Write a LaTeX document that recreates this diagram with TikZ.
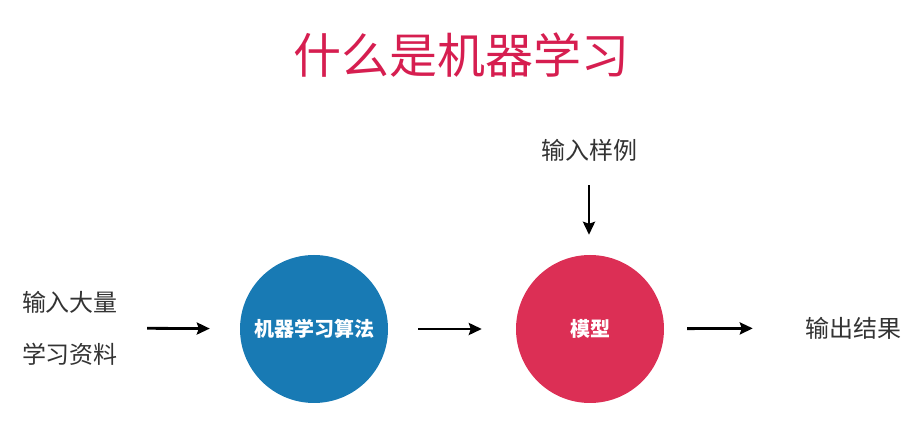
\documentclass[tikz,border=0pt]{standalone}
\usepackage{fontspec}
\setmainfont{Noto Sans CJK SC}
\usetikzlibrary{arrows.meta}

\definecolor{titlered}{RGB}{214,30,80}
\definecolor{algoblue}{RGB}{24,122,180}
\definecolor{modelred}{RGB}{220,47,85}
\definecolor{textgray}{RGB}{51,51,51}

\tikzset{
    label/.style={text=textgray, inner sep=0pt, font=\fontsize{24}{52}\selectfont},
    ball/.style={circle, minimum size=148pt, inner sep=0pt, text=white, font=\fontsize{20}{24}\selectfont\bfseries},
    arr/.style={-{Stealth[length=13pt, width=12pt, inset=2pt]}, line width=2.8pt, black}
}

\begin{document}
\begin{tikzpicture}[x=1pt, y=-1pt]
    \useasboundingbox (0,0) rectangle (922,443);
    % title
    \node[text=titlered, font=\fontsize{48}{56}\selectfont] (title) at (461,55) {什么是机器学习};
    % inputs
    \node[label, align=left] (data) at (70,328) {输入大量\\学习资料};
    \node[label] (sample) at (589,150) {输入样例};
    \node[label] (result) at (853,328) {输出结果};
    % circles
    \node[ball, fill=algoblue] (algo) at (314,329) {机器学习算法};
    \node[ball, fill=modelred] (model) at (590,329) {模型};
    % arrows
    \draw[arr, shorten <=29pt, shorten >=30pt] (data) -- (algo);
    \draw[arr, shorten <=30pt, shorten >=34pt] (algo) -- (model);
    \draw[arr, shorten <=23pt, shorten >=52pt] (model) -- (result);
    \draw[arr, shorten <=24pt, shorten >=20pt] (sample) -- (sample |- model.north);
\end{tikzpicture}
\end{document}
